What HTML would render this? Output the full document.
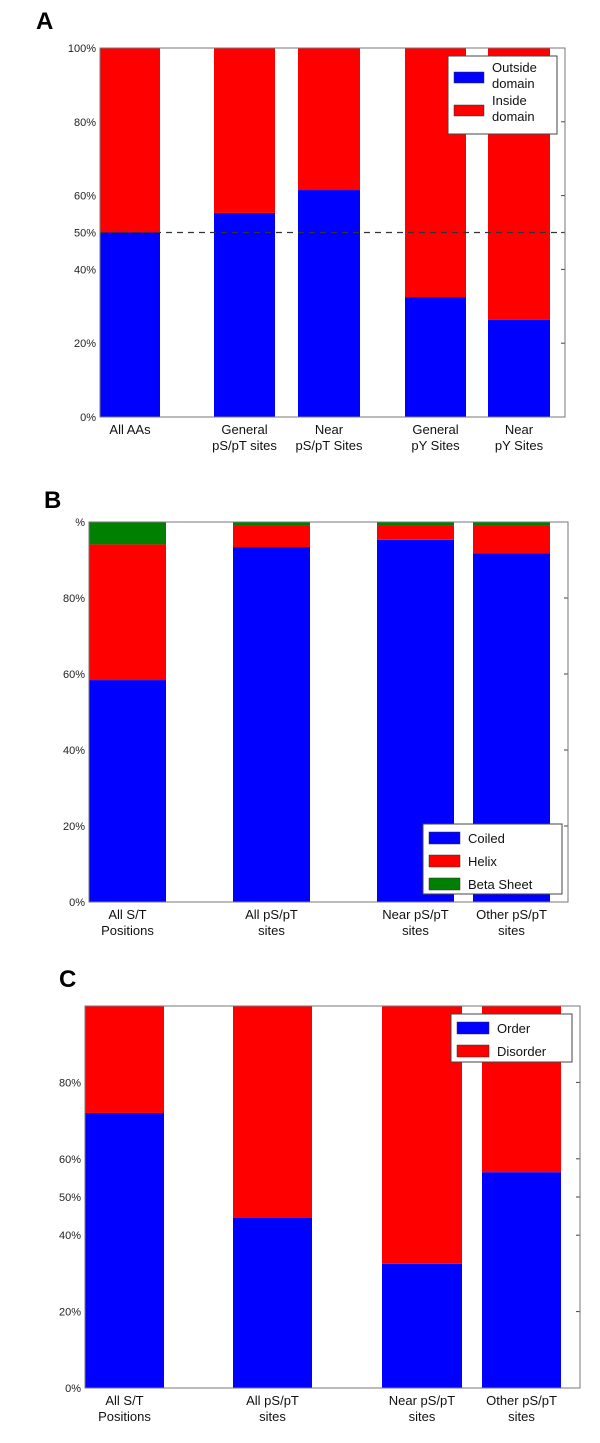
<!DOCTYPE html>
<html><head><meta charset="utf-8"><style>
html,body{margin:0;padding:0;background:#fff;}
svg{display:block;font-family:"Liberation Sans",sans-serif;}
</style></head><body>
<svg id="fig" width="600" height="1443" viewBox="0 0 600 1443">
<text x="36" y="29" font-size="24" font-weight="bold">A</text>
<text x="44" y="508" font-size="24" font-weight="bold">B</text>
<text x="59" y="987" font-size="24" font-weight="bold">C</text>
</svg>
<script>
// Panel A data
const aCategories = [["All AAs"],["General","pS/pT sites"],["Near","pS/pT Sites"],["General","pY Sites"],["Near","pY Sites"]];
const aOutside = [50, 55.3, 61.5, 32.5, 26.3];
const aTicks = [0,20,40,50,60,80,100];
// Panel B data
const bCategories = [["All S/T","Positions"],["All pS/pT","sites"],["Near pS/pT","sites"],["Other pS/pT","sites"]];
const bCoiled = [58.4, 93.4, 95.3, 91.8];
const bHelix = [35.7, 5.8, 3.9, 7.4];
const bTicks = [0,20,40,60,80];
// Panel C data
const cCategories = [["All S/T","Positions"],["All pS/pT","sites"],["Near pS/pT","sites"],["Other pS/pT","sites"]];
const cOrder = [72, 44.5, 32.5, 56.5];
const cTicks = [0,20,40,50,60,80];

const NS="http://www.w3.org/2000/svg";
const svg=document.getElementById('fig');
function mk(tag,attrs,parent){const e=document.createElementNS(NS,tag);for(const k in attrs)e.setAttribute(k,attrs[k]);(parent||svg).appendChild(e);return e;}

function panel(cfg){
  const g=mk('g',{});
  
  
  const y=v=>cfg.bottom-(cfg.bottom-cfg.top)*v/100;
  cfg.cats.forEach((cat,i)=>{
    const x0=cfg.bx[i][0],w=cfg.bx[i][1]-cfg.bx[i][0];
    let cum=0;
    cfg.series.forEach(s=>{
      const v=s.vals?s.vals[i]:(100-cum);
      const r=mk('rect',{x:x0,y:y(cum+v),width:w,height:y(cum)-y(cum+v),fill:s.color},g);
      
      
      cum+=v;
    });
    const cx=x0+w/2;
    const t=mk('text',{x:cx,'text-anchor':'middle','font-size':13,fill:'#111'},g);
    
    
    cat.forEach((ln,j)=>{const ts=mk('tspan',{x:cx,y:cfg.bottom+17+j*16},t);ts.textContent=ln;});
  });
  if(cfg.dash){const l=mk('line',{x1:cfg.left,x2:cfg.right,y1:y(50),y2:y(50),stroke:'#333','stroke-width':1.2,'stroke-dasharray':'6,5'},g);
    
    }
  cfg.ticks.forEach(tv=>{
    const t=mk('text',{x:cfg.left-4,y:y(tv)+4,'text-anchor':'end','font-size':11,fill:'#222'},g);
    t.textContent=tv+'%';
    
    
    mk('line',{x1:cfg.right-4,x2:cfg.right,y1:y(tv),y2:y(tv),stroke:'#444'},g);
  });
  if(cfg.topLabel){const t=mk('text',{x:cfg.left-4,y:cfg.top+4,'text-anchor':'end','font-size':11,fill:'#222'},g);t.textContent=cfg.topLabel;
    
    }
  const f=mk('rect',{x:cfg.left,y:cfg.top,width:cfg.right-cfg.left,height:cfg.bottom-cfg.top,fill:'none',stroke:'#777','stroke-width':1},g);
  
  
  // legend
  const L=cfg.legend;
  const lg=mk('g',{},g);
  
  
  mk('rect',{x:L.x,y:L.y,width:L.w,height:L.h,fill:'#fff',stroke:'#444'},lg);
  L.items.forEach((it,k)=>{
    const iy=L.y+L.pad+k*L.step;
    mk('rect',{x:L.x+6,y:iy,width:L.sw,height:L.sh,fill:it.color,stroke:'#333','stroke-width':0.5},lg);
    const t=mk('text',{x:L.x+L.sw+14,'font-size':13,fill:'#111'},lg);
    
    
    it.lines.forEach((ln,j)=>{const ts=mk('tspan',{x:L.x+L.sw+14,y:iy+L.ty+j*16},t);ts.textContent=ln;});
  });
}

panel({name:'panel-a-chart',left:100,right:565,top:48,bottom:417,cats:aCategories,
  bx:[[100,160],[214,275],[298,360],[405,466],[488,550]],
  series:[{key:'outside',color:'#0000ff',vals:aOutside},{key:'inside',color:'#ff0000'}],
  ticks:aTicks,dash:true,
  legend:{x:448,y:56,w:109,h:78,pad:16,step:33,sw:30,sh:11,ty:0,items:[{color:'#0000ff',lines:['Outside','domain']},{color:'#ff0000',lines:['Inside','domain']}]}});
panel({name:'panel-b-chart',left:89,right:568,top:522,bottom:902,cats:bCategories,
  bx:[[89,166],[233,310],[377,454],[473,550]],
  series:[{key:'coiled',color:'#0000ff',vals:bCoiled},{key:'helix',color:'#ff0000',vals:bHelix},{key:'beta',color:'#008000'}],
  ticks:bTicks,topLabel:'%',
  legend:{x:423,y:824,w:139,h:70,pad:8,step:23,sw:31,sh:12,ty:11,items:[{color:'#0000ff',lines:['Coiled']},{color:'#ff0000',lines:['Helix']},{color:'#008000',lines:['Beta Sheet']}]}});
panel({name:'panel-c-chart',left:85,right:580,top:1006,bottom:1388,cats:cCategories,
  bx:[[85,164],[233,312],[382,462],[482,561]],
  series:[{key:'order',color:'#0000ff',vals:cOrder},{key:'disorder',color:'#ff0000'}],
  ticks:cTicks,
  legend:{x:451,y:1014,w:121,h:48,pad:8,step:23,sw:32,sh:12,ty:11,items:[{color:'#0000ff',lines:['Order']},{color:'#ff0000',lines:['Disorder']}]}});
</script>
</body></html>
